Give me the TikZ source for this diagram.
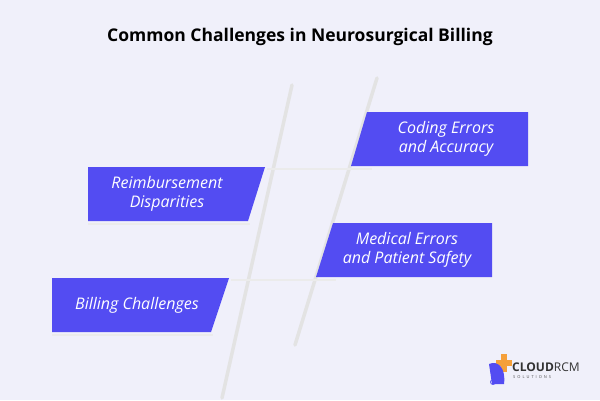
\documentclass[tikz,border=0pt]{standalone}
\usepackage{fontspec}
\setmainfont{Open Sans}
\begin{document}
\begin{tikzpicture}[x=1pt,y=-1pt,
  box/.style={fill=boxc},
  lbl/.style={text=white,font=\itshape\fontsize{16}{19.5}\selectfont,align=center},
  sh/.style={line width=3.5pt,draw=black!11,line cap=round}]
\definecolor{boxc}{HTML}{534CF2}
\definecolor{bg}{HTML}{F0F0FA}
\definecolor{org}{HTML}{F5A03A}
\fill[bg] (0,0) rectangle (600,400);
\useasboundingbox (0,0) rectangle (600,400);
\node[font=\bfseries\fontsize{17.5}{21}\selectfont] (title) at (300,37) {Common Challenges in Neurosurgical Billing};
% diagonal shadows
\draw[sh] (292,85) -- (222,398);
\draw[sh] (377,78) -- (295,345);
% horizontal shadows
\draw[line width=2.5pt,draw=black!8] (267,169) -- (372,169);
\draw[line width=2.5pt,draw=black!8] (88,224) -- (250,224);
\draw[line width=2.5pt,draw=black!8] (231,280) -- (336,280);
\draw[line width=2.5pt,draw=black!8] (52,335) -- (213,335);
% boxes
\fill[box] (367,112) -- (528,112) -- (528,166) -- (351,166) -- cycle;
\node[lbl] (c) at (446,139) {Coding Errors\\ and Accuracy};
\fill[box] (88,167) -- (265,167) -- (248,221) -- (88,221) -- cycle;
\node[lbl] (r) at (167,194) {Reimbursement\\ Disparities};
\fill[box] (333,223) -- (492,223) -- (492,277) -- (316,277) -- cycle;
\node[lbl] (m) at (407,250) {Medical Errors\\ and Patient Safety};
\fill[box] (52,278) -- (229,278) -- (211,332) -- (52,332) -- cycle;
\node[lbl] (b) at (137,305) {Billing Challenges};
% logo
\fill[org] (496,360) rectangle (512,366);
\fill[org] (501,354) rectangle (507,372);
\fill[boxc] (489,364) .. controls (498,360) and (506,368) .. (504,384) -- (492,384) -- cycle;
\draw[boxc,line width=0.8pt] (493,382) circle (2.5);
\node[anchor=west,font=\bfseries\fontsize{12}{14}\selectfont,text=black!80,inner sep=0] (logo) at (512,367) {CLOUD\mdseries RCM};
\node[anchor=west,font=\fontsize{4}{5}\selectfont,text=black!70,inner sep=0] (sol) at (513,377) {S\,\,\,O\,\,\,L\,\,\,U\,\,\,T\,\,\,I\,\,\,O\,\,\,N\,\,\,S};
\end{tikzpicture}
\end{document}
